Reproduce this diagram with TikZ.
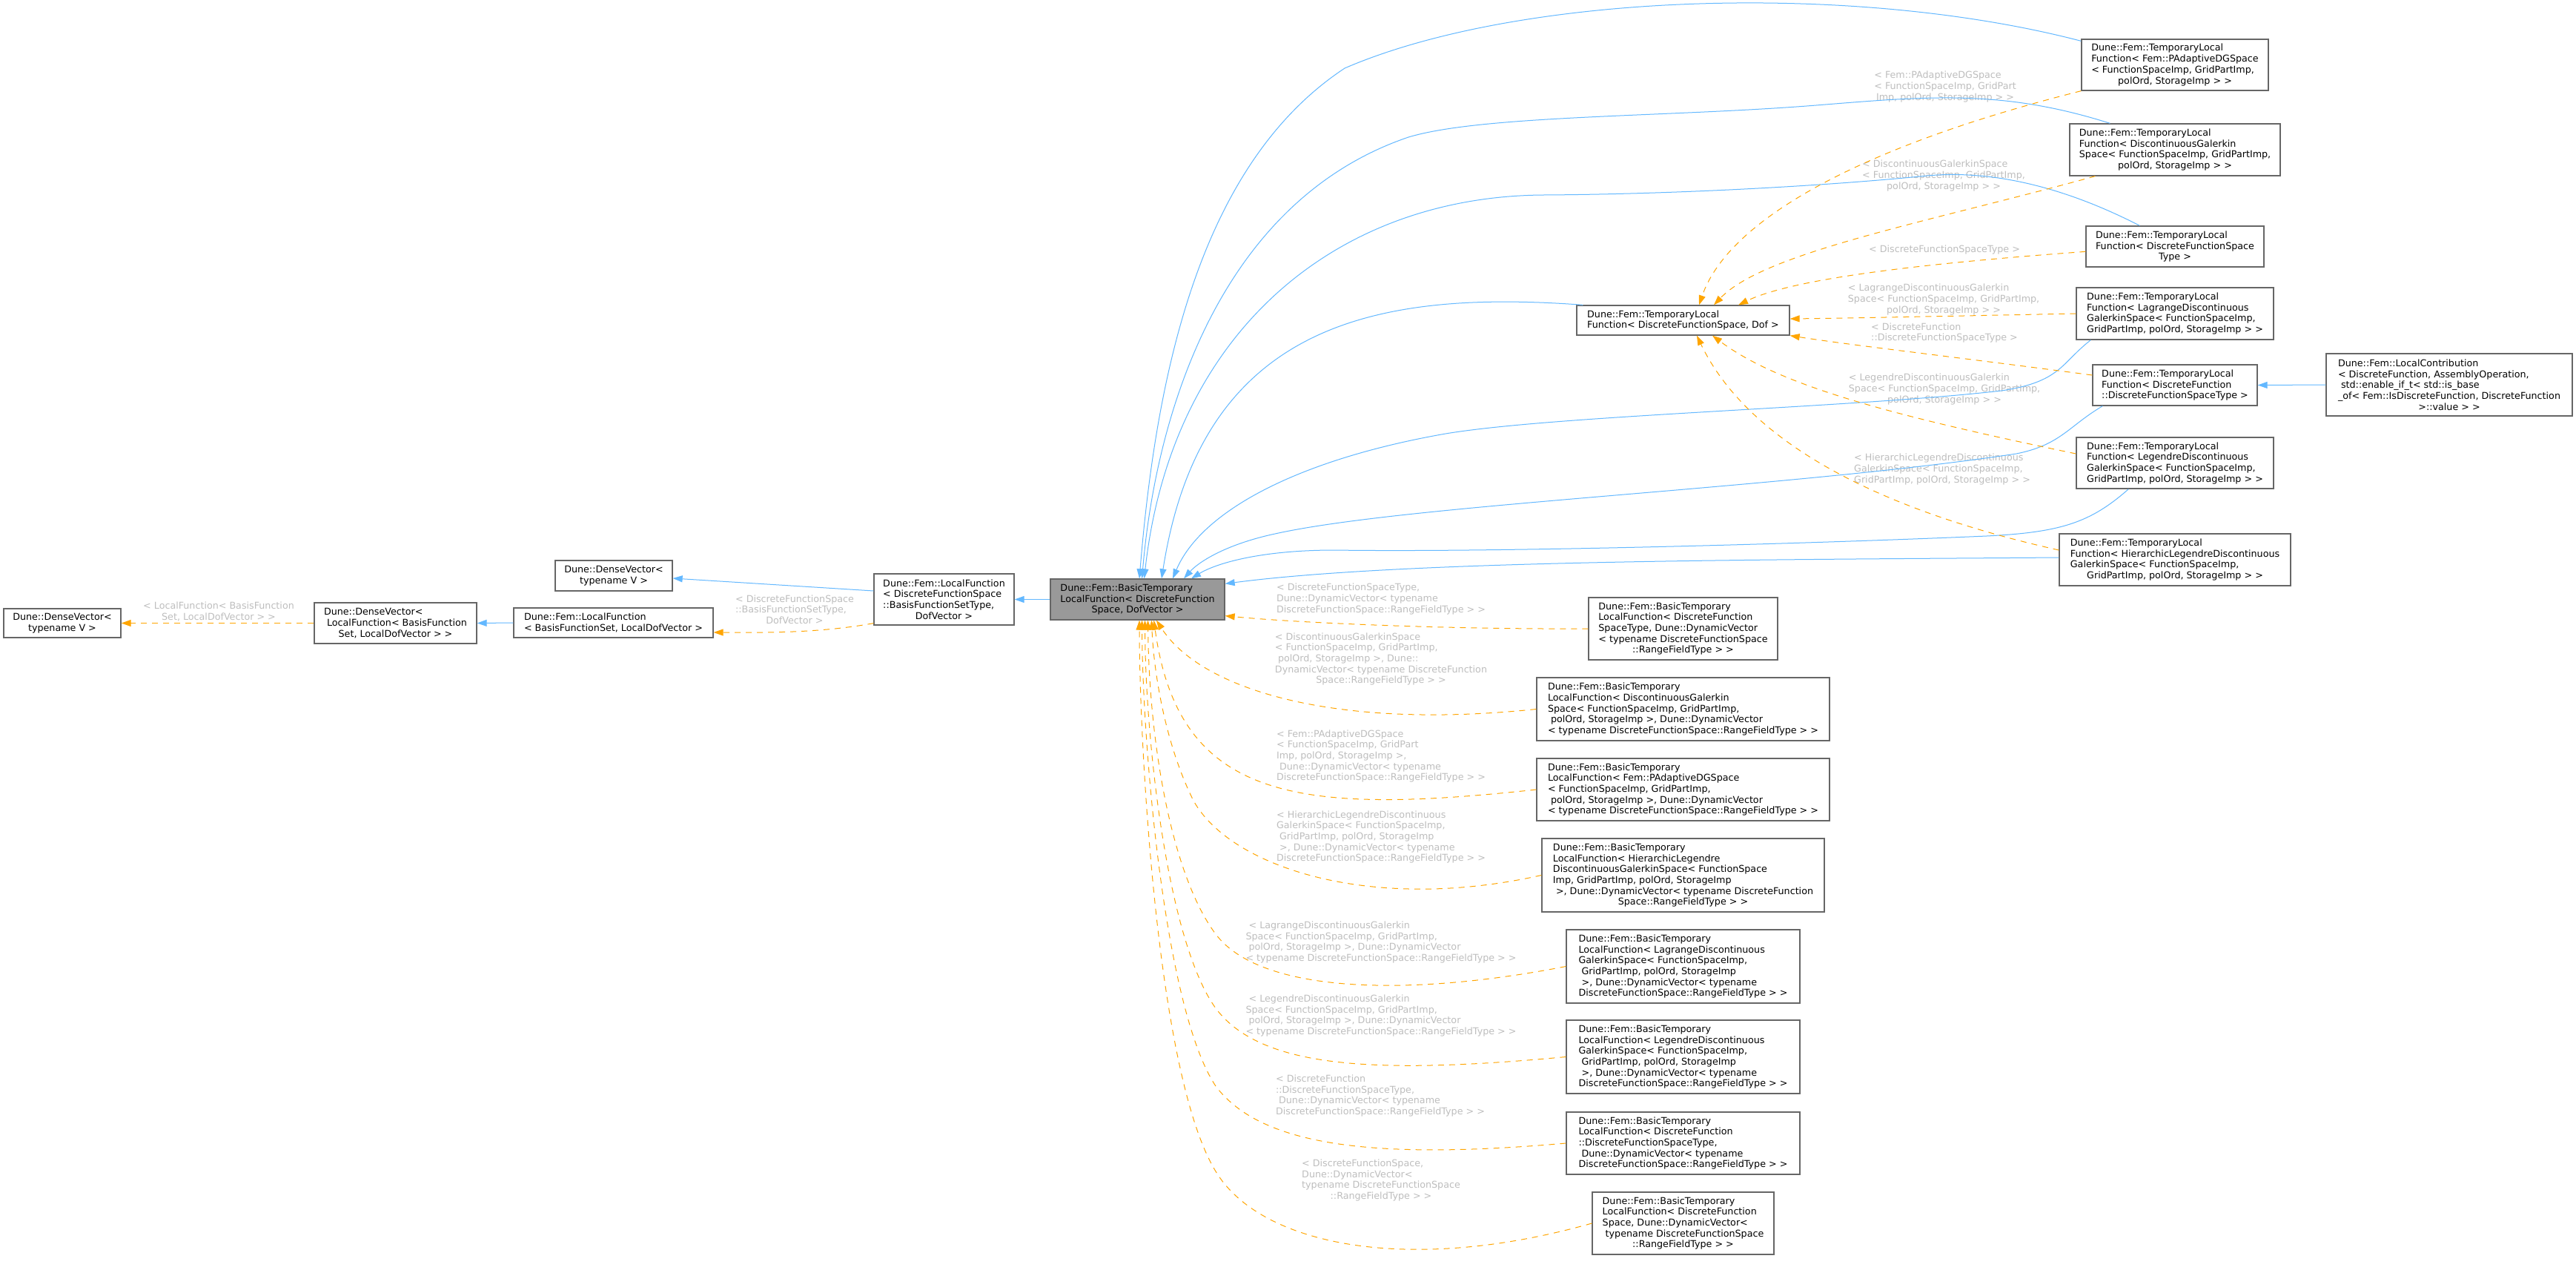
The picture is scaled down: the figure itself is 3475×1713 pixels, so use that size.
\documentclass[tikz,border=0pt]{standalone}
\usepackage{fontspec}
\setmainfont{DejaVu Sans}
\usepackage{xcolor}
\usepackage{tikz}
\usetikzlibrary{shapes,arrows.meta,positioning}

\definecolor{boxline}{HTML}{666666}
\definecolor{basefill}{HTML}{999999}
\definecolor{inherit}{HTML}{63B8FF}
\definecolor{templ}{HTML}{FFA500}
\definecolor{lblgray}{HTML}{BEBEBE}

% last line of a label is centred, the others flush left
\newcommand{\cl}[1]{\hspace*{\fill}#1\hspace*{\fill}}

\begin{document}
\begin{tikzpicture}[x=1pt, y=-1pt,
  cls/.style={rectangle, draw=boxline, line width=1.3pt, fill=white, align=left, inner sep=0pt, font=\fontsize{12.7}{14.67}\selectfont},
  lbl/.style={text=lblgray, align=left, inner sep=0pt, font=\fontsize{12.7}{14.67}\selectfont},
  isa/.style={draw=inherit, line width=1pt, -{Triangle[length=13pt,width=9pt]}},
  inst/.style={draw=templ, line width=1pt, dash pattern=on 8pt off 7pt, -{Triangle[length=13pt,width=9pt]}}]
\useasboundingbox (0,0) rectangle (3475,1713);
\fill[white] (0,0) rectangle (3475,1713);

% left part
\node (dv1) [cls, minimum width=158pt, minimum height=39pt] at (84,840.5) {Dune::DenseVector<\\\cl{typename V >}};
\node (dv2) [cls, minimum width=219pt, minimum height=55pt] at (533.5,840.5) {Dune::DenseVector<\\\ LocalFunction< BasisFunction\\\cl{Set, LocalDofVector > >}};
\node (lf1) [cls, minimum width=269pt, minimum height=40pt] at (827.5,840) {Dune::Fem::LocalFunction\\\cl{< BasisFunctionSet, LocalDofVector >}};
\node (dv3) [cls, minimum width=158pt, minimum height=41pt] at (828,776.5) {Dune::DenseVector<\\\cl{typename V >}};
\node (lf2) [cls, minimum width=189pt, minimum height=69pt] at (1273.5,808.5) {Dune::Fem::LocalFunction\\< DiscreteFunctionSpace\\::BasisFunctionSetType,\\\cl{DofVector >}};
\node (base) [cls, fill=basefill, minimum width=235pt, minimum height=55pt] at (1534.5,808.5) {Dune::Fem::BasicTemporary\\LocalFunction< DiscreteFunction\\\cl{Space, DofVector >}};

% temporary local functions
\node (tl0) [cls, minimum width=287pt, minimum height=40pt] at (2270.5,432) {Dune::Fem::TemporaryLocal\\\cl{Function< DiscreteFunctionSpace, Dof >}};
\node (tl1) [cls, minimum width=252pt, minimum height=69pt] at (2934,87.5) {Dune::Fem::TemporaryLocal\\Function< Fem::PAdaptiveDGSpace\\< FunctionSpaceImp, GridPartImp,\\\cl{polOrd, StorageImp > >}};
\node (tl2) [cls, minimum width=284pt, minimum height=70pt] at (2934,202) {Dune::Fem::TemporaryLocal\\Function< DiscontinuousGalerkin\\Space< FunctionSpaceImp, GridPartImp,\\\cl{polOrd, StorageImp > >}};
\node (tl3) [cls, minimum width=240pt, minimum height=55pt] at (2934,332.5) {Dune::Fem::TemporaryLocal\\Function< DiscreteFunctionSpace\\\cl{Type >}};
\node (tl4) [cls, minimum width=266pt, minimum height=70pt] at (2934,423) {Dune::Fem::TemporaryLocal\\Function< LagrangeDiscontinuous\\GalerkinSpace< FunctionSpaceImp,\\\cl{GridPartImp, polOrd, StorageImp > >}};
\node (tldf) [cls, minimum width=222pt, minimum height=55pt] at (2934,519.5) {Dune::Fem::TemporaryLocal\\Function< DiscreteFunction\\\cl{::DiscreteFunctionSpaceType >}};
\node (tl5) [cls, minimum width=266pt, minimum height=69pt] at (2934,624.5) {Dune::Fem::TemporaryLocal\\Function< LegendreDiscontinuous\\GalerkinSpace< FunctionSpaceImp,\\\cl{GridPartImp, polOrd, StorageImp > >}};
\node (tl6) [cls, minimum width=312pt, minimum height=70pt] at (2934,755) {Dune::Fem::TemporaryLocal\\Function< HierarchicLegendreDiscontinuous\\GalerkinSpace< FunctionSpaceImp,\\\cl{GridPartImp, polOrd, StorageImp > >}};
\node (contrib) [cls, minimum width=332pt, minimum height=84pt] at (3304,519) {Dune::Fem::LocalContribution\\< DiscreteFunction, AssemblyOperation,\\\ std::enable\_if\_t< std::is\_base\\\_of< Fem::IsDiscreteFunction, DiscreteFunction\\\cl{>::value > >}};

% basic temporary local functions
\node (bt1) [cls, minimum width=255pt, minimum height=84pt] at (2270.5,848) {Dune::Fem::BasicTemporary\\LocalFunction< DiscreteFunction\\SpaceType, Dune::DynamicVector\\< typename DiscreteFunctionSpace\\\cl{::RangeFieldType > >}};
\node (bt2) [cls, minimum width=395pt, minimum height=85pt] at (2270.5,956.5) {Dune::Fem::BasicTemporary\\LocalFunction< DiscontinuousGalerkin\\Space< FunctionSpaceImp, GridPartImp,\\\ polOrd, StorageImp >, Dune::DynamicVector\\\cl{< typename DiscreteFunctionSpace::RangeFieldType > >}};
\node (bt3) [cls, minimum width=395pt, minimum height=84pt] at (2270.5,1065) {Dune::Fem::BasicTemporary\\LocalFunction< Fem::PAdaptiveDGSpace\\< FunctionSpaceImp, GridPartImp,\\\ polOrd, StorageImp >, Dune::DynamicVector\\\cl{< typename DiscreteFunctionSpace::RangeFieldType > >}};
\node (bt4) [cls, minimum width=381pt, minimum height=99pt] at (2270.5,1180.5) {Dune::Fem::BasicTemporary\\LocalFunction< HierarchicLegendre\\DiscontinuousGalerkinSpace< FunctionSpace\\Imp, GridPartImp, polOrd, StorageImp\\\ >, Dune::DynamicVector< typename DiscreteFunction\\\cl{Space::RangeFieldType > >}};
\node (bt5) [cls, minimum width=315pt, minimum height=99pt] at (2270.5,1303.5) {Dune::Fem::BasicTemporary\\LocalFunction< LagrangeDiscontinuous\\GalerkinSpace< FunctionSpaceImp,\\\ GridPartImp, polOrd, StorageImp\\\ >, Dune::DynamicVector< typename\\\cl{DiscreteFunctionSpace::RangeFieldType > >}};
\node (bt6) [cls, minimum width=315pt, minimum height=99pt] at (2270.5,1425.5) {Dune::Fem::BasicTemporary\\LocalFunction< LegendreDiscontinuous\\GalerkinSpace< FunctionSpaceImp,\\\ GridPartImp, polOrd, StorageImp\\\ >, Dune::DynamicVector< typename\\\cl{DiscreteFunctionSpace::RangeFieldType > >}};
\node (bt7) [cls, minimum width=315pt, minimum height=84pt] at (2270.5,1542) {Dune::Fem::BasicTemporary\\LocalFunction< DiscreteFunction\\::DiscreteFunctionSpaceType,\\\ Dune::DynamicVector< typename\\\cl{DiscreteFunctionSpace::RangeFieldType > >}};
\node (bt8) [cls, minimum width=245pt, minimum height=84pt] at (2270.5,1650) {Dune::Fem::BasicTemporary\\LocalFunction< DiscreteFunction\\Space, Dune::DynamicVector<\\\ typename DiscreteFunctionSpace\\\cl{::RangeFieldType > >}};

% edge labels
\node (lbl1) [lbl] at (295,825) {< LocalFunction< BasisFunction\\\cl{Set, LocalDofVector > >}};
\node (lbl2) [lbl] at (1072,822) {< DiscreteFunctionSpace\\::BasisFunctionSetType,\\\cl{DofVector >}};
\node (lbl3) [lbl] at (2624,117) {< Fem::PAdaptiveDGSpace\\< FunctionSpaceImp, GridPart\\\cl{Imp, polOrd, StorageImp > >}};
\node (lbl4) [lbl] at (2622,237) {< DiscontinuousGalerkinSpace\\< FunctionSpaceImp, GridPartImp,\\\cl{polOrd, StorageImp > >}};
\node (lbl5) [lbl] at (2623,337) {< DiscreteFunctionSpaceType >};
\node (lbl6) [lbl] at (2622,404) {< LagrangeDiscontinuousGalerkin\\Space< FunctionSpaceImp, GridPartImp,\\\cl{polOrd, StorageImp > >}};
\node (lbl7) [lbl] at (2623,449) {< DiscreteFunction\\\cl{::DiscreteFunctionSpaceType >}};
\node (lbl8) [lbl] at (2623,525) {< LegendreDiscontinuousGalerkin\\Space< FunctionSpaceImp, GridPartImp,\\\cl{polOrd, StorageImp > >}};
\node (lbl9) [lbl] at (2620,633) {< HierarchicLegendreDiscontinuous\\GalerkinSpace< FunctionSpaceImp,\\\cl{GridPartImp, polOrd, StorageImp > >}};
\node (lbl10) [lbl] at (1863,808) {< DiscreteFunctionSpaceType,\\Dune::DynamicVector< typename\\\cl{DiscreteFunctionSpace::RangeFieldType > >}};
\node (lbl11) [lbl] at (1863,889) {< DiscontinuousGalerkinSpace\\< FunctionSpaceImp, GridPartImp,\\\ polOrd, StorageImp >, Dune::\\DynamicVector< typename DiscreteFunction\\\cl{Space::RangeFieldType > >}};
\node (lbl12) [lbl] at (1863,1020) {< Fem::PAdaptiveDGSpace\\< FunctionSpaceImp, GridPart\\Imp, polOrd, StorageImp >,\\\ Dune::DynamicVector< typename\\\cl{DiscreteFunctionSpace::RangeFieldType > >}};
\node (lbl13) [lbl] at (1863,1129) {< HierarchicLegendreDiscontinuous\\GalerkinSpace< FunctionSpaceImp,\\\ GridPartImp, polOrd, StorageImp\\\ >, Dune::DynamicVector< typename\\\cl{DiscreteFunctionSpace::RangeFieldType > >}};
\node (lbl14) [lbl] at (1863,1271) {\ < LagrangeDiscontinuousGalerkin\\Space< FunctionSpaceImp, GridPartImp,\\\ polOrd, StorageImp >, Dune::DynamicVector\\\cl{< typename DiscreteFunctionSpace::RangeFieldType > >}};
\node (lbl15) [lbl] at (1863,1370) {\ < LegendreDiscontinuousGalerkin\\Space< FunctionSpaceImp, GridPartImp,\\\ polOrd, StorageImp >, Dune::DynamicVector\\\cl{< typename DiscreteFunctionSpace::RangeFieldType > >}};
\node (lbl16) [lbl] at (1862,1478) {< DiscreteFunction\\::DiscreteFunctionSpaceType,\\\ Dune::DynamicVector< typename\\\cl{DiscreteFunctionSpace::RangeFieldType > >}};
\node (lbl17) [lbl] at (1863,1592) {< DiscreteFunctionSpace,\\Dune::DynamicVector<\\typename DiscreteFunctionSpace\\\cl{::RangeFieldType > >}};

% inheritance
\draw[isa] (base.west) -- (lf2.east);
\draw[isa] ([yshift=11.5pt]lf2.west) -- ([yshift=-3.5pt]dv3.east);
\draw[isa] (lf1.west) -- (dv2.east);
\draw[isa] (contrib.west) -- (tldf.east);
\draw[isa] ([yshift=-3pt]tl1.north west) .. controls (2500,-25) and (2050,-10) .. (1814,92) .. controls (1620,220) and (1560,500) .. ([xshift=2.5pt]base.north);
\draw[isa] ([xshift=55pt]tl2.north west) .. controls (2700,120) and (2600,130) .. (2450,142) .. controls (2250,158) and (2000,155) .. (1900,185) .. controls (1650,270) and (1560,550) .. ([xshift=6pt]base.north);
\draw[isa] ([xshift=73pt]tl3.north west) .. controls (2800,260) and (2700,228) .. (2600,237) .. controls (2450,252) and (2250,262) .. (2082,263) .. controls (1800,265) and (1580,450) .. ([xshift=9pt]base.north);
\draw[isa] ([xshift=9pt]tl0.north west) .. controls (1850,390) and (1620,440) .. ([xshift=32.5pt]base.north);
\draw[isa] ([xshift=20pt]tl4.south west) .. controls (2780,490) and (2780,515) .. (2700,527) .. controls (2500,550) and (2100,560) .. (1950,585) .. controls (1750,620) and (1620,690) .. ([xshift=47.5pt]base.north);
\draw[isa] ([xshift=14pt]tldf.south west) .. controls (2790,575) and (2780,600) .. (2720,612) .. controls (2400,660) and (1900,680) .. (1720,720) .. controls (1650,735) and (1615,760) .. ([xshift=62.5pt]base.north);
\draw[isa] ([xshift=71pt]tl5.south west) .. controls (2820,705) and (2780,718) .. (2680,723) .. controls (2400,735) and (2000,745) .. (1800,742) .. controls (1700,742) and (1640,760) .. ([xshift=72.5pt]base.north);
\draw[isa] ([yshift=3pt]tl6.west) .. controls (2400,755) and (1900,755) .. ([yshift=-7pt]base.north east);

% template instances
\draw[inst] (dv2.west) -- (dv1.east);
\draw[inst] ([yshift=3pt]lf2.south west) .. controls (1100,855) and (1020,853) .. ([yshift=-13pt]lf1.east);
\draw[inst] (tl1.south west) .. controls (2500,200) and (2330,300) .. ([xshift=21.5pt]tl0.north);
\draw[inst] ([xshift=35pt]tl2.south west) .. controls (2600,300) and (2380,340) .. ([xshift=41.5pt]tl0.north);
\draw[inst] ([yshift=-35pt]tl3.north west) .. controls (2600,355) and (2420,375) .. ([xshift=74.5pt]tl0.north);
\draw[inst] (tl4.west) .. controls (2650,426) and (2500,429) .. ([yshift=2pt]tl0.east);
\draw[inst] ([yshift=13.5pt]tldf.west) .. controls (2650,483) and (2500,466) .. (tl0.south east);
\draw[inst] ([yshift=12.5pt]tl5.west) .. controls (2550,560) and (2400,520) .. ([xshift=39.5pt]tl0.south);
\draw[inst] ([yshift=13pt]tl6.west) .. controls (2500,680) and (2350,580) .. ([xshift=18.5pt]tl0.south);
\draw[inst] (bt1.west) .. controls (1950,849) and (1750,840) .. ([yshift=6pt]base.south east);
\draw[inst] (bt2.west) .. controls (1800,985) and (1620,930) .. ([xshift=25.5pt]base.south);
\draw[inst] (bt3.west) .. controls (1750,1100) and (1590,1080) .. ([xshift=22pt]base.south);
\draw[inst] (bt4.west) .. controls (1850,1232) and (1660,1170) .. (1610,1080) .. controls (1570,1000) and (1556,900) .. ([xshift=19pt]base.south);
\draw[inst] (bt5.west) .. controls (1900,1345) and (1700,1340) .. (1640,1260) .. controls (1580,1180) and (1550,1000) .. ([xshift=14pt]base.south);
\draw[inst] (bt6.west) .. controls (1850,1450) and (1700,1440) .. (1640,1360) .. controls (1575,1270) and (1545,1000) .. ([xshift=10pt]base.south);
\draw[inst] (bt7.west) .. controls (1850,1565) and (1700,1545) .. (1640,1465) .. controls (1570,1360) and (1541,1000) .. ([xshift=6pt]base.south);
\draw[inst] (bt8.west) .. controls (1900,1720) and (1700,1680) .. (1640,1580) .. controls (1560,1450) and (1537,1000) .. ([xshift=2.5pt]base.south);
\end{tikzpicture}
\end{document}
